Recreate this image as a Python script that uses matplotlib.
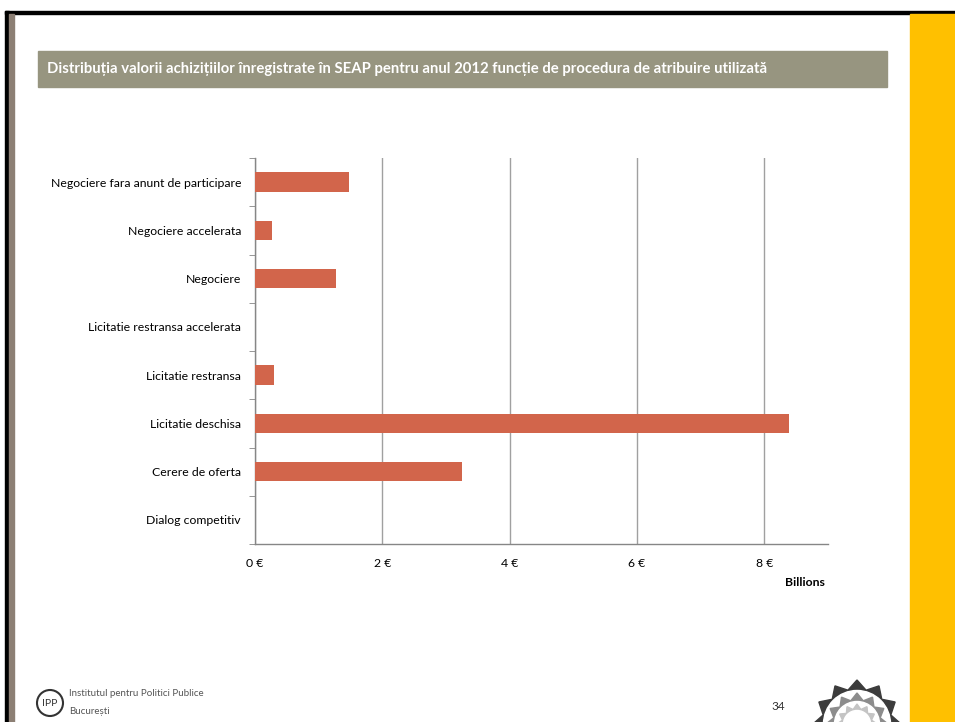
import numpy as np
import matplotlib.pyplot as plt
from matplotlib.patches import Rectangle, Polygon, Circle

plt.rcParams['font.family'] = ['Lato', 'DejaVu Sans']

categories = [
    'Negociere fara anunt de participare',
    'Negociere accelerata',
    'Negociere',
    'Licitatie restransa accelerata',
    'Licitatie restransa',
    'Licitatie deschisa',
    'Cerere de oferta',
    'Dialog competitiv',
]
values_bn = [1.47, 0.27, 1.27, 0.0, 0.30, 8.38, 3.25, 0.0]
x_ticks = [0, 2, 4, 6, 8]
x_tick_labels = ['0 €', '2 €', '4 €', '6 €', '8 €']
title = 'Distribuția valorii achizițiilor înregistrate în SEAP pentru anul 2012 funcție de procedura de atribuire utilizată'

W, H = 955, 722
fig = plt.figure(figsize=(W / 100, H / 100), dpi=100)

# page decoration layer in pixel coordinates
deco = fig.add_axes([0, 0, 1, 1], zorder=0)
deco.set_xlim(0, W)
deco.set_ylim(H, 0)
deco.axis('off')

deco.add_patch(Rectangle((5, 11), W - 5, 3, color='black'))
deco.add_patch(Rectangle((5, 11), 4, H - 11, color='black'))
deco.add_patch(Rectangle((9, 14), 5, H - 14, color='#8c7f74'))
deco.add_patch(Rectangle((910, 14), W - 910, H - 14, color='#ffc000'))
deco.add_patch(Rectangle((38, 51), 849, 36, color='#979580'))
deco.text(47, 69, title, color='white', fontsize=10.7, fontweight='bold', va='center', ha='left')

# footer
deco.add_patch(Circle((50, 703), 13, facecolor='white', edgecolor='#333333', lw=1.5))
deco.text(50, 704, 'IPP', fontsize=7.5, color='#333333', ha='center', va='center')
deco.text(69, 694, 'Institutul pentru Politici Publice', fontsize=7, color='#555555', va='center')
deco.text(69, 711, 'București', fontsize=7, color='#555555', va='center')
deco.text(778, 707, '34', fontsize=8.5, color='#333333', ha='center', va='center')


def star(cx, cy, r_out, r_in, n):
    ang = np.linspace(-np.pi / 2, 3 * np.pi / 2, 2 * n, endpoint=False)
    rad = np.where(np.arange(2 * n) % 2 == 0, r_out, r_in)
    return np.column_stack([cx + rad * np.cos(ang), cy + rad * np.sin(ang)])


for r_out, r_in, col in [(44, 35, '#3c3c3c'), (31, 24, '#8c8c8c'), (20, 15, '#c4c4c4')]:
    deco.add_patch(Polygon(star(857, 724, r_out, r_in, 12), closed=True, color=col))
    deco.add_patch(Circle((857, 724), r_in - 1.5, color='white'))

# chart
ax = fig.add_axes([255 / W, 1 - 544 / H, (828 - 255) / W, (544 - 158) / H], zorder=1)
ax.patch.set_alpha(0)
y = np.arange(len(categories))
ax.barh(y, values_bn, height=0.4, color='#d2654b', zorder=3)
ax.set_ylim(len(categories) - 0.5, -0.5)
ax.set_xlim(0, 9)

ax.set_yticks(y)
ax.set_yticklabels(categories, fontsize=8.8)
ax.set_yticks(np.arange(-0.5, len(categories)), minor=True)
ax.tick_params(axis='y', which='major', length=0, pad=10)
ax.tick_params(axis='y', which='minor', length=4, color='#868686', direction='out')

ax.set_xticks(x_ticks)
ax.set_xticklabels(x_tick_labels, fontsize=8.8)
ax.tick_params(axis='x', length=0, pad=10)
ax.grid(axis='x', color='#a0a0a0', lw=1, zorder=0)
ax.set_axisbelow(True)

for s in ['top', 'right']:
    ax.spines[s].set_visible(False)
for s in ['left', 'bottom']:
    ax.spines[s].set_color('#868686')
    ax.spines[s].set_linewidth(1)

deco.text(825, 582, 'Billions', fontsize=8.8, fontweight='bold', ha='right', va='center')

fig.savefig('out.png', dpi=100)
